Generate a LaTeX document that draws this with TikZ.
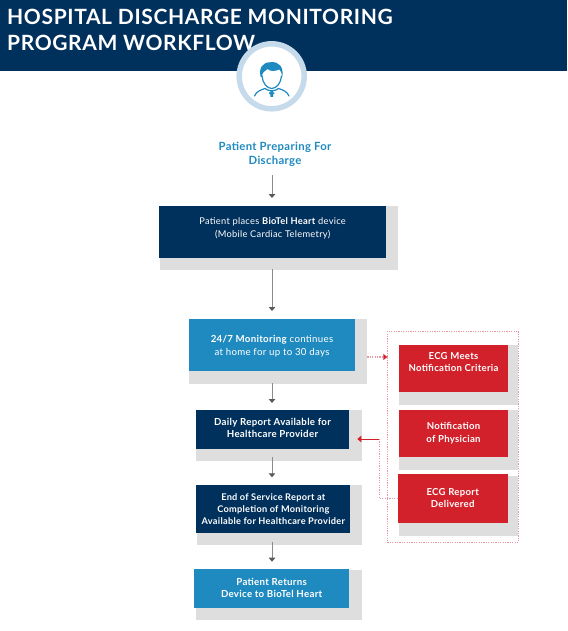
\documentclass[tikz,border=0pt]{standalone}
\usepackage{fontspec}
\setmainfont{Lato}
\newfontfamily\spaced[LetterSpace=3]{Lato}
\usetikzlibrary{fit,arrows.meta}
\definecolor{navy}{HTML}{00305C}
\definecolor{skyb}{HTML}{1F8AC0}
\definecolor{redb}{HTML}{D2212A}
\definecolor{shade}{HTML}{DEDEDE}
\definecolor{ring}{HTML}{C5DAEB}
\definecolor{dotred}{HTML}{EC98A2}
\definecolor{steel}{HTML}{8C8C8C}
\newcommand\liftby[1]{\mbox{}\\[#1pt]}
\tikzset{
  x=1pt,y=-1pt,
  panel/.style={fill=#1,inner sep=0pt,outer sep=0pt,text=white,align=center,font=\fontsize{9.3}{12.8}\selectfont\spaced},
  shadowbox/.style={fill=shade,inner sep=0pt,outer sep=0pt},
  flowarrow/.style={draw=steel,line width=1pt,-{Triangle[length=4pt,width=6.5pt,fill=black!65,color=black!65]}},
  reddots/.style={draw=dotred,line width=1.2pt,dash pattern=on 1.2pt off 1.2pt},
  redtip/.style={-{Triangle[length=4pt,width=6.5pt,fill=redb,color=redb]}},
  icon/.style={draw=skyb,line width=1.2pt,line cap=round,line join=round},
}
\begin{document}
\begin{tikzpicture}
\useasboundingbox[fill=white] (0,0) rectangle (567,631);
% header
\node[fit={(0,0)(567,71)},fill=navy,inner sep=0pt,outer sep=0pt] (header) {};
\node[anchor=north west,inner sep=0pt,text=white,align=left,font=\fontsize{21}{26.5}\selectfont\bfseries\spaced] (maintitle) at (7,8.5)
  {HOSPITAL DISCHARGE MONITORING\\PROGRAM WORKFLOW};
% avatar
\node[circle,draw=ring,fill=white,line width=5.5pt,minimum size=65pt,inner sep=0pt] (avatar) at (271.7,76.3) {};
\fill[skyb] (260.6,77) .. controls (258.8,68) and (262,62.2) .. (271,62.2)
  .. controls (279,61.5) and (284,67) .. (282.3,77)
  .. controls (281.5,73) and (281,71) .. (279.5,69.5)
  .. controls (275,71.5) and (270,71.5) .. (267.5,69)
  .. controls (265,71) and (262,72) .. (262,77) -- cycle;
\draw[icon] (262,76) .. controls (262.5,83) and (267,88.5) .. (271.7,88.5)
  .. controls (276.5,88.5) and (281,83) .. (281.5,76);
\draw[icon] (254.5,96) .. controls (256.5,91) and (261,90) .. (265,88.5) (289,96) .. controls (287,91) and (282.5,90) .. (278.5,88.5);
\draw[icon] (265,88.5) .. controls (268,91.5) and (275.5,91.5) .. (278.5,88.5);
\fill[skyb] (270.4,91) rectangle (273,97) (269,92.3) rectangle (274.4,94.2);
% start label
\node[font=\fontsize{11.3}{14}\selectfont\bfseries\spaced,text=skyb,align=center,inner sep=0pt] (start) at (275,154) {Patient Preparing For\\Discharge};
% flow boxes
\node[shadowbox,fit={(159.5,206)(398,270)}] (s1) {};
\node[panel=navy,fit={(159.3,206)(386,258)}] (b1) {\liftby{-4.8}Patient places \textbf{BioTel Heart} device\\(Mobile Cardiac Telemetry)\\[-2pt]\mbox{}};
\node[shadowbox,fit={(189,319)(367.3,384)}] (s2) {};
\node[panel=skyb,font=\fontsize{9.7}{13}\selectfont\spaced,fit={(189,319)(355,371.3)}] (b2) {\liftby{-3}\textbf{24/7 Monitoring} continues\\at home for up to 30 days};
\node[shadowbox,fit={(195.7,410)(362,461.3)}] (s3) {};
\node[panel=navy,font=\fontsize{9.7}{12.6}\selectfont\bfseries\spaced,fit={(195.7,410)(349.3,449.3)}] (b3) {\liftby{-8.6}Daily Report Available for\\Healthcare Provider};
\node[shadowbox,fit={(197,485.3)(362.3,545)}] (s4) {};
\node[panel=navy,font=\fontsize{9.2}{12}\selectfont\bfseries\spaced,fit={(196.3,485.3)(350.3,532.7)}] (b4) {\liftby{-4}End of Service Report at\\Completion of Monitoring\\Available for Healthcare Provider};
\node[shadowbox,fit={(196,570)(362,620)}] (s5) {};
\node[panel=skyb,font=\fontsize{9.7}{12.2}\selectfont\bfseries\spaced,fit={(194,568.7)(349.3,608)}] (b5) {\liftby{-6.2}Patient Returns\\Device to BioTel Heart};
% red panel
\node[reddots,fit={(387.3,331.3)(518.3,542.3)},inner sep=0pt,outer sep=0pt] (frame) {};
\node[shadowbox,fit={(399.3,345)(518.3,404.7)}] (t1) {};
\node[panel=redb,font=\fontsize{9.6}{11.8}\selectfont\bfseries\spaced,fit={(399.3,344.7)(507.7,392.3)}] (r1) {\liftby{-6.8}ECG Meets\\Notification Criteria\\[-1pt]\mbox{}};
\node[shadowbox,fit={(399.3,410)(518.3,469.7)}] (t2) {};
\node[panel=redb,font=\fontsize{9.6}{12.8}\selectfont\bfseries\spaced,fit={(399.3,409.7)(507.7,457.3)}] (r2) {\liftby{-6.6}Notification\\of Physician};
\node[shadowbox,fit={(399.3,476)(518.3,535.7)}] (t3) {};
\node[panel=redb,font=\fontsize{9.6}{11.8}\selectfont\bfseries\spaced,fit={(397.7,474.3)(507.7,523.3)}] (r3) {\liftby{-5.8}ECG Report\\Delivered};
% connectors
\coordinate (spine) at (272,0);
\coordinate (level) at (0,357);
\coordinate (ret) at (379.5,439);
\coordinate (rettip) at (357.3,439);
\draw[flowarrow,shorten <=9pt,shorten >=8pt] (start.south -| spine) -- (b1.north -| spine);
\draw[flowarrow,shorten >=8pt,shorten <=-1pt] (s1.south -| spine) -- (b2.north -| spine);
\draw[flowarrow,shorten >=7pt,shorten <=-1pt] (s2.south -| spine) -- (b3.north -| spine);
\draw[flowarrow,shorten >=8pt,shorten <=-4pt] (s3.south -| spine) -- (b4.north -| spine);
\draw[flowarrow,shorten >=7pt,shorten <=-3pt] (s4.south -| spine) -- (b5.north -| spine);
\draw[reddots] (s2.east |- level) -- (frame.west |- level);
\fill[redb] (frame.west |- level) -- ++(-4,-3.2) -- ++(0,6.4) -- cycle;
\draw[redb,line width=1pt,redtip] (ret) -- (rettip);
\draw[reddots] (r3.west) -| (ret);
\end{tikzpicture}
\end{document}
